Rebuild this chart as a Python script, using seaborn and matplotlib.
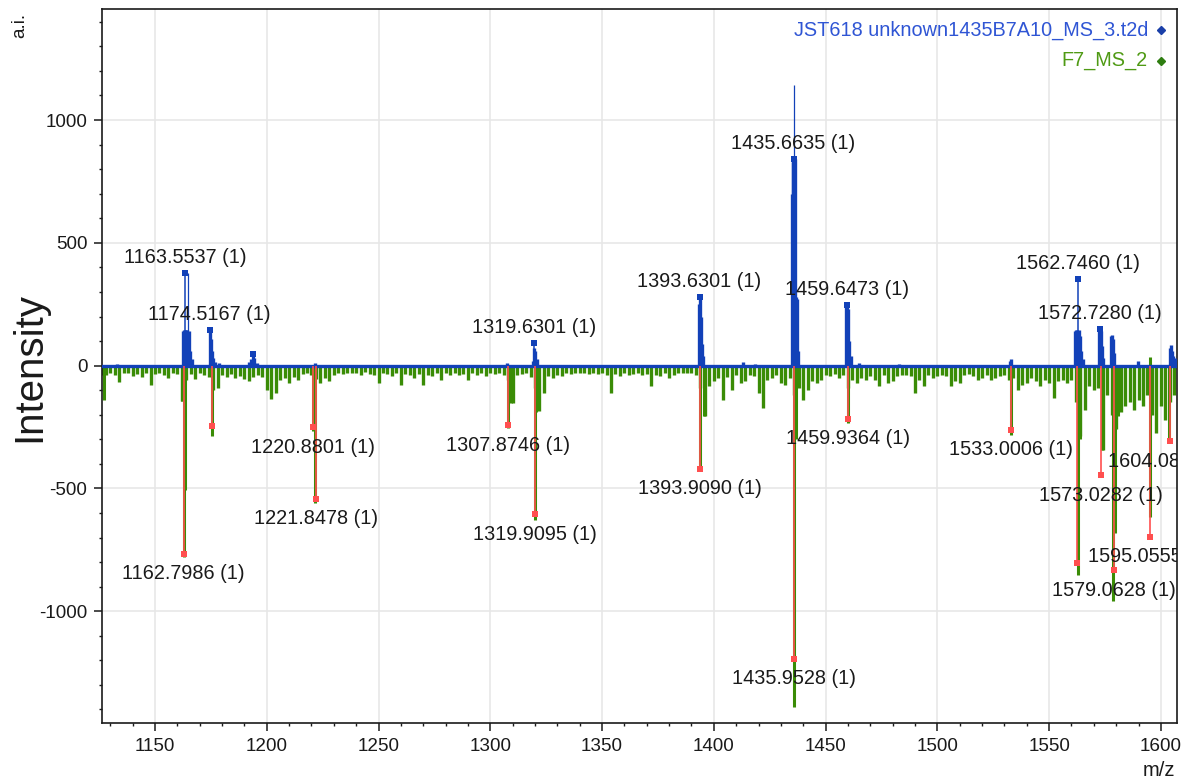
import numpy as np
import pandas as pd
import matplotlib
matplotlib.use("Agg")
import matplotlib.pyplot as plt
import seaborn as sns
from matplotlib.ticker import MultipleLocator

# ---------------- data ----------------
# green spectrum (F7_MS_2), noise comb, one value every 2 m/z from 1126
green_start = 1126.0
green_step = 2.0
green_noise = [
    -40, -40, -30, -38, -68, -32, -28, -42, -35, -48,
    -30, -78, -36, -28, -40, -52, -30, -34, -145, -60,
    -35, -56, -30, -38, -45, -98, -90, -40, -48, -33,
    -50, -42, -55, -64, -45, -40, -48, -98, -136, -110,
    -60, -50, -70, -45, -57, -35, -30, -40, -55, -70,
    -50, -64, -40, -30, -35, -28, -32, -30, -38, -25,
    -34, -40, -70, -30, -35, -44, -30, -78, -36, -40,
    -50, -34, -78, -40, -44, -30, -57, -32, -38, -30,
    -40, -35, -57, -30, -38, -32, -44, -30, -36, -28,
    -40, -60, -152, -40, -35, -30, -45, -90, -186, -110,
    -44, -50, -38, -44, -30, -36, -28, -32, -30, -35,
    -28, -34, -30, -40, -110, -35, -44, -30, -38, -34,
    -30, -40, -36, -84, -40, -44, -30, -50, -38, -30,
    -28, -32, -30, -40, -90, -207, -84, -64, -50, -139,
    -45, -98, -40, -71, -64, -40, -44, -111, -173, -60,
    -50, -40, -71, -78, -50, -120, -90, -139, -98, -64,
    -71, -57, -40, -44, -35, -50, -38, -90, -57, -71,
    -50, -57, -44, -57, -84, -40, -71, -64, -44, -38,
    -40, -44, -112, -57, -84, -40, -50, -44, -38, -44,
    -84, -64, -71, -40, -36, -44, -57, -50, -40, -57,
    -50, -44, -40, -60, -50, -98, -78, -71, -50, -64,
    -84, -60, -71, -132, -64, -57, -71, -60, -150, -288,
    -180, -84, -98, -90, -342, -120, -200, -260, -190, -166,
    -150, -180, -140, -166, -120, -200, -275, -166, -220, -150,
    -118,
]
green_noise_mz = [green_start + green_step * i for i in range(len(green_noise))]

# green spectrum, strong peaks
green_peak_mz = [1127.0, 1162.0, 1162.8, 1163.4, 1175.3, 1220.9, 1221.8, 1307.9,
                 1309.4, 1319.9, 1320.6, 1393.9, 1395.4, 1435.95, 1436.7, 1460.0,
                 1533.1, 1563.1, 1564.0, 1573.6, 1578.7, 1579.5, 1581.0, 1595.0,
                 1595.3, 1603.7]
green_peak_int = [-139, -145, -780, -505, -288, -265, -560, -255,
                  -152, -630, -190, -430, -207, -1390, -300, -234,
                  -282, -852, -300, -342, -960, -680, -207, 35,
                  -615, -314]

# blue spectrum (JST618 ...), sticks
blue_mz = [1133.0, 1162.6, 1163.0, 1163.5, 1164.0, 1164.5, 1165.0, 1165.5, 1166.5,
           1174.5, 1175.0, 1175.4, 1176.0, 1177.0, 1178.5,
           1192.0, 1193.0, 1193.8, 1194.5, 1195.5, 1221.6, 1307.4,
           1319.0, 1319.6, 1320.2, 1320.8,
           1393.2, 1393.6, 1394.1, 1394.6, 1395.1, 1413.0, 1418.5,
           1434.8, 1435.2, 1435.6, 1436.2, 1436.6, 1437.2, 1437.7,
           1459.2, 1459.6, 1460.1, 1460.6, 1461.2, 1465.0, 1483.0,
           1532.5, 1533.0, 1561.5, 1562.0, 1562.4, 1563.2, 1563.7, 1564.3, 1565.0,
           1572.3, 1572.7, 1573.2, 1573.7, 1574.2,
           1577.6, 1578.1, 1578.6, 1579.2, 1589.8,
           1604.0, 1604.5, 1605.0, 1605.6, 1606.4]
blue_int = [8, 140, 147, 147, 147, 147, 140, 60, 25,
            147, 110, 60, 30, 15, 10,
            15, 25, 49, 30, 12, 10, 10,
            20, 70, 60, 25,
            250, 270, 200, 90, 40, 15, 8,
            700, 830, 843, 840, 280, 270, 60,
            240, 248, 230, 100, 40, 12, 8,
            20, 28, 140, 147, 147, 147, 120, 60, 25,
            140, 150, 140, 80, 30,
            120, 126, 110, 50, 20,
            70, 86, 60, 40, 30]

# narrow blue spikes without label
blue_thin_mz = [1164.9, 1435.9]
blue_thin_int = [379, 1141]
blue_dot_mz = [1193.8]
blue_dot_int = [49]

# labelled peaks of the blue spectrum
blue_pk_mz = [1163.5537, 1174.5167, 1319.6301, 1393.6301, 1435.6635, 1459.6473,
              1562.7460, 1572.7280]
blue_pk_int = [379, 147, 92, 281, 843, 248, 353, 150]
blue_pk_lab = ["1163.5537 (1)", "1174.5167 (1)", "1319.6301 (1)", "1393.6301 (1)",
               "1435.6635 (1)", "1459.6473 (1)", "1562.7460 (1)", "1572.7280 (1)"]

# labelled peaks of the green spectrum (red stems)
red_pk_mz = [1162.7986, 1175.3, 1220.8801, 1221.8478, 1307.8746, 1319.9095,
             1393.9090, 1435.9528, 1459.9364, 1533.0006, 1562.6, 1573.0282,
             1579.0628, 1595.0555, 1604.0812]
red_pk_int = [-766, -244, -250, -543, -243, -605, -420, -1194, -216, -261, -804,
              -447, -834, -697, -308]
red_pk_lab = ["1162.7986 (1)", "", "1220.8801 (1)", "1221.8478 (1)", "1307.8746 (1)",
              "1319.9095 (1)", "1393.9090 (1)", "1435.9528 (1)", "1459.9364 (1)",
              "1533.0006 (1)", "", "1573.0282 (1)", "1579.0628 (1)", "1595.0555 (1)",
              "1604.0812 (1)"]

series_names = ["JST618 unknown1435B7A10_MS_3.t2d", "F7_MS_2"]
x_ticks = [1150, 1200, 1250, 1300, 1350, 1400, 1450, 1500, 1550, 1600]
y_ticks = [-1000, -500, 0, 500, 1000]

# ---------------- style ----------------
BLUE = "#1241b8"
GREEN = "#3a8c06"
RED = "#ff4f4f"
TXT = "#1a1a1a"

sns.set_theme(style="white")
plt.rcParams['font.family'] = ['Liberation Sans', 'DejaVu Sans']
plt.rcParams['axes.unicode_minus'] = False

W, H = 1187, 781
fig = plt.figure(figsize=(W / 100, H / 100), dpi=100)
ax = fig.add_axes([102 / W, 58 / H, 1075 / W, 714 / H])

ax.set_xlim(1126.3, 1607.2)
ax.set_ylim(-1455, 1452)

# green spectrum
ax.vlines(green_noise_mz, 0, green_noise, colors=GREEN, lw=2.4, zorder=2)
ax.vlines(green_peak_mz, 0, green_peak_int, colors=GREEN, lw=2.2, zorder=2.1)

# red picked-peak stems
ax.vlines(red_pk_mz, 0, red_pk_int, colors=RED, lw=1.2, zorder=4)

# blue spectrum
ax.axhline(0, color=BLUE, lw=2.4, zorder=3)
ax.vlines(blue_mz, 0, blue_int, colors=BLUE, lw=2.4, zorder=3)
ax.vlines(blue_thin_mz, 0, blue_thin_int, colors=BLUE, lw=0.9, zorder=3)
ax.vlines(blue_pk_mz, 0, blue_pk_int, colors=BLUE, lw=1.1, zorder=3)

# markers
df_blue = pd.DataFrame({"mz": blue_pk_mz + blue_dot_mz, "y": blue_pk_int + blue_dot_int})
df_red = pd.DataFrame({"mz": red_pk_mz, "y": red_pk_int})
sns.scatterplot(data=df_blue, x="mz", y="y", marker="s", s=14, color=BLUE,
                linewidth=0, ax=ax, zorder=5, legend=False)
sns.scatterplot(data=df_red, x="mz", y="y", marker="s", s=14, color=RED,
                linewidth=0, ax=ax, zorder=5, legend=False)

# labels
FS = 14.3
for m, v, t in zip(blue_pk_mz, blue_pk_int, blue_pk_lab):
    ax.annotate(t, xy=(m, v), xytext=(0, 11), textcoords="offset points",
                ha="center", va="center", fontsize=FS, color=TXT, clip_on=True, zorder=6)
for m, v, t in zip(red_pk_mz, red_pk_int, red_pk_lab):
    if t:
        ax.annotate(t, xy=(m, v), xytext=(0, -14.4), textcoords="offset points",
                    ha="center", va="center", fontsize=FS, color=TXT, clip_on=True, zorder=6)

# axes styling
ax.set_xticks(x_ticks)
ax.set_yticks(y_ticks)
ax.set_xticklabels([str(v) for v in x_ticks])
ax.set_yticklabels([str(v) for v in y_ticks])
ax.xaxis.set_minor_locator(MultipleLocator(10))
ax.yaxis.set_minor_locator(MultipleLocator(100))
ax.tick_params(which="both", bottom=True, left=True, top=False, right=False,
               direction="out", color=TXT)
ax.tick_params(which="major", length=5.5, width=1.1, labelsize=13.6, labelcolor=TXT, pad=5)
ax.tick_params(which="minor", length=2.5, width=1.0)
ax.grid(True, which="major", color="#e6e6e6", lw=1.1)
ax.set_axisbelow(True)
for sp in ax.spines.values():
    sp.set_color(TXT)
    sp.set_linewidth(1.2)
ax.set_xlabel("")
ax.set_ylabel("")

# legend (text + diamonds)
ax.text(0.973, 0.9706, series_names[0], transform=ax.transAxes, ha="right", va="center",
        fontsize=14.3, color="#2f55d4", zorder=7)
ax.text(0.973, 0.9272, series_names[1], transform=ax.transAxes, ha="right", va="center",
        fontsize=14.3, color="#4f9a14", zorder=7)
ax.plot([0.985], [0.9706], marker="D", ms=4.5, color="#1a3fa8", transform=ax.transAxes,
        zorder=7, clip_on=False)
ax.plot([0.985], [0.9272], marker="D", ms=4.5, color="#2e7d10", transform=ax.transAxes,
        zorder=7, clip_on=False)

# axis titles
fig.text(29 / W, 1 - 367 / H, "Intensity", rotation=90, ha="center", va="center",
         fontsize=29, color=TXT)
fig.text(20 / W, 1 - 25 / H, "a.i.", rotation=90, ha="center", va="center",
         fontsize=13.5, color=TXT)
fig.text(1159 / W, 1 - 770 / H, "m/z", ha="center", va="center", fontsize=14.5, color=TXT)

fig.savefig("out.png", dpi=100)
